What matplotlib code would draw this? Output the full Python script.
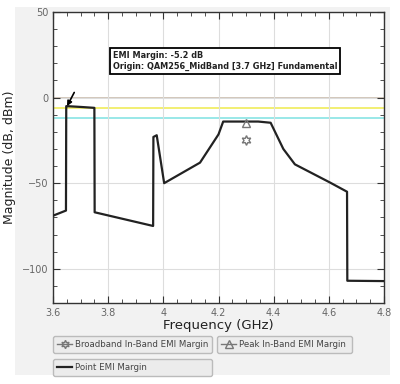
import matplotlib.pyplot as plt
from matplotlib.patches import Rectangle
from matplotlib.lines import Line2D
from matplotlib.ticker import MultipleLocator

# Point EMI margin trace (GHz, dB)
freq = [3.600, 3.647, 3.648, 3.651, 3.704, 3.750, 3.751, 3.963, 3.964, 3.976,
        4.003, 4.133, 4.200, 4.217, 4.344, 4.389, 4.435, 4.477, 4.604, 4.666,
        4.667, 4.800]
margin = [-69, -66, -5, -5, -5.5, -6, -67, -75, -23, -22,
          -50, -38, -21.5, -14, -14, -14.7, -30, -39, -49.6, -55,
          -107, -107.2]

# markers
peak_f, peak_val = [4.30], [-15]
broad_f, broad_val = [4.30], [-25]

# reference levels
ref_levels = [0, -6, -12]
ref_colors = ['#cbbcae', '#f0ec5a', '#88e4e4']

fig = plt.figure(figsize=(4, 3.84), dpi=100)
fig.patch.set_facecolor('white')
fig.patches.append(Rectangle((15 / 400, 1 - 375 / 384), 375 / 400, 368 / 384,
                             transform=fig.transFigure, facecolor='#f2f2f2',
                             edgecolor='none', zorder=-10))

ax = fig.add_axes([53 / 400, 1 - 303 / 384, 331 / 400, 291 / 384])
ax.set_facecolor('white')

for lvl, c in zip(ref_levels, ref_colors):
    ax.axhline(lvl, color=c, lw=1.2, zorder=1)

point_line, = ax.plot(freq, margin, color='#222222', lw=1.6, zorder=3)
peak_line, = ax.plot(peak_f, peak_val, ls='none', marker='^', ms=6,
                     mfc='none', mec='#777777', mew=1, zorder=4)
broad_line, = ax.plot(broad_f, broad_val, ls='none', marker=(6, 1, 0), ms=7,
                      mfc='none', mec='#777777', mew=1, zorder=4)

ax.annotate('', xy=(3.651, -5), xytext=(3.677, 3),
            arrowprops=dict(arrowstyle='-|>', color='black', lw=1.2,
                            mutation_scale=7, shrinkA=0, shrinkB=0))

ax.text(3.818, 27.5, 'EMI Margin: -5.2 dB\nOrigin: QAM256_MidBand [3.7 GHz] Fundamental',
        fontsize=5.9, fontweight='bold', color='#222222', va='top', ha='left',
        linespacing=1.35,
        bbox=dict(boxstyle='square,pad=0.35', fc='white', ec='black', lw=1.3),
        zorder=6)

ax.set_xlim(3.6, 4.8)
ax.set_ylim(-120, 50)
ax.set_xticks([3.6, 3.8, 4.0, 4.2, 4.4, 4.6, 4.8])
ax.set_xticklabels(['3.6', '3.8', '4', '4.2', '4.4', '4.6', '4.8'])
ax.set_yticks([-100, -50, 0, 50])
ax.xaxis.set_minor_locator(MultipleLocator(0.05))
ax.yaxis.set_minor_locator(MultipleLocator(10))
ax.tick_params(which='both', direction='in', top=True, right=True,
               labelsize=7, labelcolor='#666666', color='#333333')
ax.tick_params(which='major', length=5)
ax.tick_params(which='minor', length=3)
ax.grid(True, which='major', color='#dddddd', lw=0.8, zorder=0)
for s in ax.spines.values():
    s.set_color('#333333')
    s.set_linewidth(1.0)

ax.set_xlabel('Frequency (GHz)', fontsize=9.5, color='#222222', labelpad=1)
ax.set_ylabel('Magnitude (dB, dBm)', fontsize=9, color='#222222', labelpad=4)

# legend boxes
leg_kw = dict(fontsize=6.2, frameon=True, fancybox=True, facecolor='#ececec',
              edgecolor='#bbbbbb', framealpha=1, handlelength=1.8,
              handletextpad=0.35, borderpad=0.45, borderaxespad=0,
              mode='expand', loc='lower left')
broad_h = Line2D([], [], color='#777777', lw=1, marker=(6, 1, 0), ms=6,
                 mfc='none', mec='#777777')
peak_h = Line2D([], [], color='#777777', lw=1, marker='^', ms=6,
                mfc='none', mec='#777777')
point_h = Line2D([], [], color='#222222', lw=1.6)
l1 = fig.legend([broad_h], ['Broadband In-Band EMI Margin'],
                bbox_to_anchor=(53 / 400, 1 - 353 / 384, 159 / 400, 18 / 384), **leg_kw)
l2 = fig.legend([peak_h], ['Peak In-Band EMI Margin'],
                bbox_to_anchor=(217 / 400, 1 - 353 / 384, 135 / 400, 18 / 384), **leg_kw)
l3 = fig.legend([point_h], ['Point EMI Margin'],
                bbox_to_anchor=(53 / 400, 1 - 376 / 384, 159 / 400, 18 / 384), **leg_kw)
for lg in (l1, l2, l3):
    for t in lg.get_texts():
        t.set_color('#444444')

plt.savefig('out.png', dpi=100, facecolor=fig.get_facecolor())
